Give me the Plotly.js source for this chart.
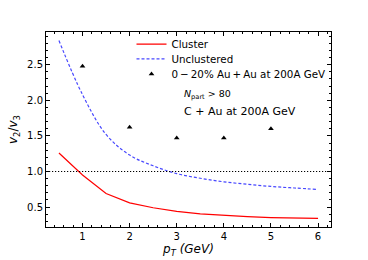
<!DOCTYPE html>
<html><head><meta charset="utf-8">
<script src="https://cdn.plot.ly/plotly-3.0.1.min.js"></script>
<style>html,body{margin:0;padding:0;background:#fff}#c{width:368px;height:260px}</style>
</head><body><div id="c"></div>
<script>
const pt = [0.5, 1, 1.5, 2, 2.5, 3, 3.5, 4, 4.5, 5, 5.5, 6];
const cluster = [1.26, 0.95, 0.69, 0.56, 0.49, 0.44, 0.405, 0.38, 0.365, 0.352, 0.345, 0.34];
const unclustered = [2.84, 2.08, 1.52, 1.23, 1.08, 0.97, 0.905, 0.855, 0.82, 0.79, 0.768, 0.748];
const auPt = [1, 2, 3, 4, 5];
const auRatio = [2.48, 1.62, 1.47, 1.47, 1.60];
const refLevel = [1.0];
const ff = 'DejaVu Sans, sans-serif';

const traces = [
  {x: pt, y: cluster, mode: 'lines', name: 'Cluster', legend: 'legend',
   line: {color: '#ff0000', width: 1.2, shape: 'linear'}},
  {x: pt, y: unclustered, mode: 'lines', name: 'Unclustered', legend: 'legend2',
   line: {color: '#4848ff', width: 1.2, dash: '3px,2px', shape: 'spline'}},
  {x: auPt, y: auRatio, mode: 'markers', name: '0\u2009−\u200920% Au\u2009+\u2009Au at 200A GeV', legend: 'legend3',
   marker: {symbol: 'triangle-up', size: 5, color: '#000'}}
];

const axBase = {
  showline: true, linecolor: '#000', linewidth: 1, mirror: 'allticks',
  ticks: 'inside', ticklen: 4, tickwidth: 1, tickcolor: '#000',
  showgrid: false, zeroline: false,
  tickfont: {family: ff, size: 10, color: '#000'},
  minor: {ticks: 'inside', ticklen: 2, tickwidth: 1, tickcolor: '#000', showgrid: false}
};

function leg(y) {
  return {x: 0.3, y: y, xanchor: 'left', yanchor: 'middle', bgcolor: 'rgba(0,0,0,0)',
    font: {family: ff, size: 10.3, color: '#000'}, itemwidth: 30};
}

const layout = {
  width: 368, height: 260,
  margin: {l: 46, r: 37, t: 32, b: 33},
  paper_bgcolor: '#fff', plot_bgcolor: '#fff',
  showlegend: true,
  legend: leg(0.938),
  legend2: leg(0.862),
  legend3: leg(0.785),
  xaxis: Object.assign({}, axBase, {range: [0.225, 6.275], dtick: 1, tick0: 0,
    minor: Object.assign({}, axBase.minor, {dtick: 0.2}),
    title: {text: '<i>p<sub>T</sub> (GeV)</i>', font: {family: ff, size: 12, color: '#000'}, standoff: 2}}),
  yaxis: Object.assign({}, axBase, {range: [0.22, 2.96], dtick: 0.5, tick0: 0, tickformat: '.1f',
    minor: Object.assign({}, axBase.minor, {dtick: 0.1}),
    title: {text: '<i>v</i><sub>2</sub>/<i>v</i><sub>3</sub>', font: {family: ff, size: 12, color: '#000'}, standoff: 6}}),
  shapes: [{type: 'line', xref: 'paper', x0: 0, x1: 1, yref: 'y', y0: refLevel[0], y1: refLevel[0],
    line: {color: '#000', width: 1.2, dash: '1.2px,1.8px'}}],
  annotations: [
    {xref: 'paper', yref: 'paper', x: 0.477, y: 0.68, xanchor: 'left', yanchor: 'middle', showarrow: false,
     text: '<i>N</i><sub>part</sub> > 80', font: {family: ff, size: 9.5, color: '#000'}},
    {xref: 'paper', yref: 'paper', x: 0.477, y: 0.593, xanchor: 'left', yanchor: 'middle', showarrow: false,
     text: 'C + Au at 200A GeV', font: {family: ff, size: 11, color: '#000'}}
  ]
};
Plotly.newPlot('c', traces, layout, {displayModeBar: false, staticPlot: true});
</script></body></html>
